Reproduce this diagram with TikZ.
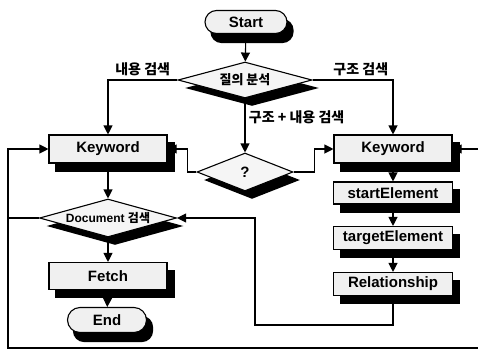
\documentclass[tikz,border=0pt]{standalone}
\usepackage{fontspec}
\setmainfont{Liberation Sans}
\newfontfamily\krfont{Noto Sans CJK KR}
\usetikzlibrary{arrows.meta,shapes.geometric,shapes.misc,backgrounds,calc}

\begin{document}
\begin{tikzpicture}[x=1pt, y=-1pt,
  boxshadow/.style={preaction={draw=none, fill=black, transform canvas={xshift=7pt, yshift=-8pt}}},
  terminal/.style={draw, rounded rectangle, line width=1.1pt, fill=gray!12,
    font=\fontsize{15}{17}\selectfont\bfseries, inner sep=0pt},
  process/.style={draw, rectangle, line width=1.1pt, fill=gray!12,
    minimum width=118pt, font=\fontsize{15}{17}\selectfont\bfseries, inner sep=0pt},
  decision/.style={draw, diamond, line width=1.1pt, fill=gray!8, boxshadow, inner sep=0pt},
  flow/.style={arrows={-Triangle[length=9pt,width=9pt]}, line width=1.1pt},
  krlabel/.style={font=\krfont\fontsize{14}{16}\selectfont\bfseries}]
\useasboundingbox (0,0) rectangle (478,351);

\node[terminal, minimum width=82pt, minimum height=23pt] at (246,22) (start) {Start};
\node[decision, aspect=3.7, minimum width=134pt, minimum height=36pt] at (245,80) (query)
  {\krfont\fontsize{13}{15}\selectfont\bfseries 질의 분석};
\node[process, minimum height=28pt] at (108,149) (kwleft) {Keyword};
\node[process, minimum height=28pt] at (393,149) (kwright) {Keyword};
\node[decision, aspect=2.5, minimum width=96pt, minimum height=38pt] at (245,172) (check)
  {\fontsize{15}{17}\selectfont\bfseries ?};
\node[decision, aspect=3.6, minimum width=137pt, minimum height=38pt] at (108,218) (docsearch)
  {\fontsize{12}{14}\selectfont\bfseries Document {\krfont 검색}};
\node[process, minimum height=27pt] at (108,276) (fetch) {Fetch};
\node[terminal, minimum width=79pt, minimum height=25pt] at (107,320) (finish) {End};
\node[process, minimum width=119pt, minimum height=22pt] at (393,193) (startel) {startElement};
\node[process, minimum width=119pt, minimum height=23pt] at (393,238) (targetel) {targetElement};
\node[process, minimum width=119pt, minimum height=23pt] at (393,284) (relation) {Relationship};

% shadows
\begin{scope}[on background layer]
\foreach \n in {kwleft,kwright,fetch,startel,targetel,relation}
  \fill ($(\n.north west)+(7,8)$) rectangle ($(\n.south east)+(7,8)$);
\foreach \n in {start,finish}
  \fill[rounded corners=11pt] ($(\n.west |- \n.north)+(6,9)$) rectangle ($(\n.east |- \n.south)+(6,9)$);
\end{scope}

\coordinate (relturn) at (255,325);
\coordinate (loopbl) at (8,348);
\coordinate (loopbr) at (484,348);

\draw[flow] (start) to (query);
\draw[flow] (query.west) -| node[pos=0.25, above, krlabel] {내용 검색} (kwleft.north);
\draw[flow] (query.east) -| node[pos=0.3, above, krlabel] {구조 검색} (kwright.north);
\draw[flow] (query.south) to node[pos=0.35, right, krlabel] {구조 + 내용 검색} (check.north);
\draw[flow] (check.west) -- ++(-9,0) |- (kwleft.east);
\draw[flow] (check.east) -- ++(21,0) |- (kwright.west);
\draw[flow] (kwleft) to (docsearch);
\draw[flow] (docsearch) to (fetch);
\draw[flow] (fetch) to (finish);
\draw[flow] (kwright) to (startel);
\draw[flow] (startel) to (targetel);
\draw[flow] (targetel) to (relation);
\draw[flow] (relation.south) |- (relturn) |- (docsearch.east);
% no match: back to the keywords
\draw[flow] (docsearch.west) -| (loopbl) -- (loopbr) |- (kwright.east);
\draw[flow] (docsearch.west -| loopbl) |- (kwleft.west);
\end{tikzpicture}
\end{document}
